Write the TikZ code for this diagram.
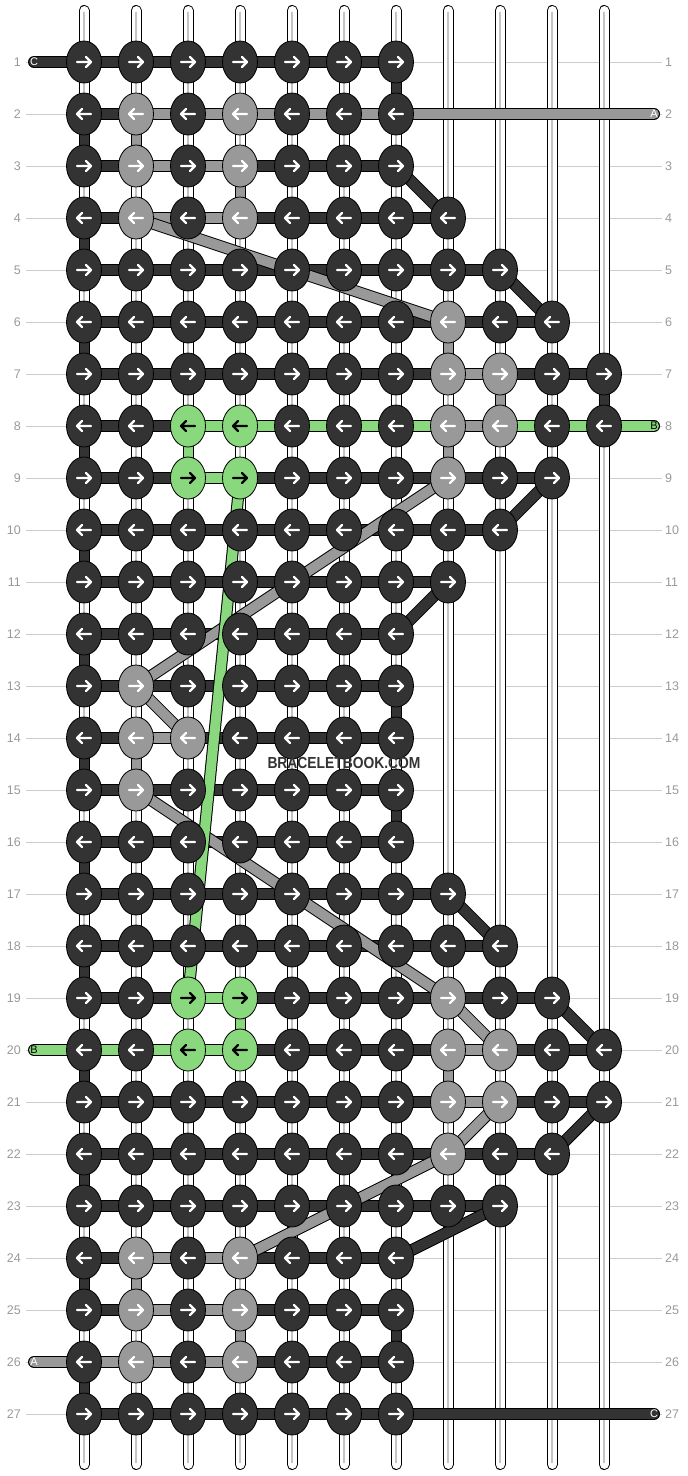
\documentclass[tikz,border=0pt]{standalone}
\usepackage{fontspec}
\setmainfont{Liberation Sans}
\usetikzlibrary{shapes.geometric}
\definecolor{cD}{HTML}{333333}
\definecolor{cG}{HTML}{999999}
\definecolor{cL}{RGB}{138,216,126}
\definecolor{guidecol}{HTML}{CCCCCC}
\definecolor{lblcol}{HTML}{999999}
\definecolor{corecol}{HTML}{C4C4C4}
\pgfdeclarelayer{guides}\pgfdeclarelayer{tubes}\pgfdeclarelayer{bars}\pgfdeclarelayer{diags}
\pgfsetlayers{guides,tubes,bars,diags,main}
\tikzset{
  knot/.style={ellipse, draw=black, line width=0.8pt, minimum width=35pt, minimum height=42pt, inner sep=0pt},
  kd/.style={knot, fill=cD, /utils/exec={\def\arrcol{white}}},
  kg/.style={knot, fill=cG, /utils/exec={\def\arrcol{white}}},
  kl/.style={knot, fill=cL, /utils/exec={\def\arrcol{black}}},
  arrR/.style={path picture={\draw[draw=\arrcol, line width=2.4pt, line cap=round, line join=round]
      (path picture bounding box.center) ++(-7,0) -- ++(14,0) ++(-5,-5) -- ++(5,5) -- ++(-5,5);}},
  arrL/.style={path picture={\draw[draw=\arrcol, line width=2.4pt, line cap=round, line join=round]
      (path picture bounding box.center) ++(7,0) -- ++(-14,0) ++(5,-5) -- ++(-5,5) -- ++(5,5);}},
  thread/.style={draw=black, line width=1pt, double=#1, double distance=10pt},
  vthread/.style={draw=black, line width=1pt, double=#1, double distance=9pt},
  tailthread/.style={draw=black, line width=1pt, double=#1, double distance=10pt, line cap=round},
  tube/.style={draw=black, line width=1pt, double=white, double distance=9pt, line cap=round},
  tubecore/.style={draw=corecol, line width=1.6pt},
  guide/.style={draw=guidecol, line width=1pt},
  rowlbl/.style={inner sep=0pt, text=lblcol, font=\fontsize{12.5}{12.5}\selectfont},
  taillbl/.style={inner sep=0pt, font=\fontsize{11}{11}\selectfont},
}
\newcommand\knotrow[2]{%
  \ifodd#1\relax\def\adir{arrR}\else\def\adir{arrL}\fi
  \foreach \kc [count=\kcol] in {#2}{%
    \node[\kc,\adir] (k-#1-\kcol) at ({84+52*(\kcol-1)},{62+52*(#1-1)}) {};
  }}
\newcommand\myH[2]{%
  \foreach \sc [count=\kcol] in {#2}{%
    \pgfmathtruncatemacro\knext{\kcol+1}%
    \draw[thread=\sc] (k-#1-\kcol.center) -- (k-#1-\knext.center);
  }}
\newcommand\myV[3]{% col, upper row, colour
  \pgfmathtruncatemacro\nrow{#2+1}%
  \draw[vthread=#3] (k-#2-#1.center) -- (k-\nrow-#1.center);}
\newcommand\myD[5]{\draw[thread=#5] (k-#1-#2.center) -- (k-#3-#4.center);}
\begin{document}
\begin{tikzpicture}[x=1pt,y=-1pt]
\useasboundingbox (0,0) rectangle (688,1476);
% row labels and guide lines
\foreach \rr in {1,...,27}{
  \pgfmathsetmacro\yy{62+52*(\rr-1)}
  \node[rowlbl, anchor=east] (ll-\rr) at (21,\yy) {\rr};
  \node[rowlbl, anchor=west] (rl-\rr) at (665,\yy) {\rr};
  \coordinate (gl-\rr) at (26,\yy);
  \coordinate (gr-\rr) at (662,\yy);
  \begin{pgfonlayer}{guides}\draw[guide] (gl-\rr) -- (gr-\rr);\end{pgfonlayer}
}
% strings
\foreach \kcol in {1,...,11}{
  \pgfmathsetmacro\xx{84+52*(\kcol-1)}
  \coordinate (tt-\kcol) at (\xx,10.5);
  \coordinate (tb-\kcol) at (\xx,1464.5);
  \coordinate (ct-\kcol) at (\xx,12);
  \coordinate (cb-\kcol) at (\xx,1463);
  \begin{pgfonlayer}{tubes}
    \draw[tube] (tt-\kcol) -- (tb-\kcol);
    \draw[tubecore] (ct-\kcol) -- (cb-\kcol);
  \end{pgfonlayer}
}
% knots
\knotrow{1}{kd,kd,kd,kd,kd,kd,kd}
\knotrow{2}{kd,kg,kd,kg,kd,kd,kd}
\knotrow{3}{kd,kg,kd,kg,kd,kd,kd}
\knotrow{4}{kd,kg,kd,kg,kd,kd,kd,kd}
\knotrow{5}{kd,kd,kd,kd,kd,kd,kd,kd,kd}
\knotrow{6}{kd,kd,kd,kd,kd,kd,kd,kg,kd,kd}
\knotrow{7}{kd,kd,kd,kd,kd,kd,kd,kg,kg,kd,kd}
\knotrow{8}{kd,kd,kl,kl,kd,kd,kd,kg,kg,kd,kd}
\knotrow{9}{kd,kd,kl,kl,kd,kd,kd,kg,kd,kd}
\knotrow{10}{kd,kd,kd,kd,kd,kd,kd,kd,kd}
\knotrow{11}{kd,kd,kd,kd,kd,kd,kd,kd}
\knotrow{12}{kd,kd,kd,kd,kd,kd,kd}
\knotrow{13}{kd,kg,kd,kd,kd,kd,kd}
\knotrow{14}{kd,kg,kg,kd,kd,kd,kd}
\knotrow{15}{kd,kg,kd,kd,kd,kd,kd}
\knotrow{16}{kd,kd,kd,kd,kd,kd,kd}
\knotrow{17}{kd,kd,kd,kd,kd,kd,kd,kd}
\knotrow{18}{kd,kd,kd,kd,kd,kd,kd,kd,kd}
\knotrow{19}{kd,kd,kl,kl,kd,kd,kd,kg,kd,kd}
\knotrow{20}{kd,kd,kl,kl,kd,kd,kd,kg,kg,kd,kd}
\knotrow{21}{kd,kd,kd,kd,kd,kd,kd,kg,kg,kd,kd}
\knotrow{22}{kd,kd,kd,kd,kd,kd,kd,kg,kd,kd}
\knotrow{23}{kd,kd,kd,kd,kd,kd,kd,kd,kd}
\knotrow{24}{kd,kg,kd,kg,kd,kd,kd}
\knotrow{25}{kd,kg,kd,kg,kd,kd,kd}
\knotrow{26}{kd,kg,kd,kg,kd,kd,kd}
\knotrow{27}{kd,kd,kd,kd,kd,kd,kd}
% tail ends
\coordinate (tl-1) at (34,62);
\coordinate (tr-2) at (654,114);
\coordinate (tr-8) at (654,426);
\coordinate (tl-20) at (34,1050);
\coordinate (tl-26) at (34,1362);
\coordinate (tr-27) at (654,1414);
\begin{pgfonlayer}{bars}
  \draw[tailthread=cD] (k-1-1.center) -- (tl-1);
  \draw[tailthread=cG] (k-2-7.center) -- (tr-2);
  \draw[tailthread=cL] (k-8-11.center) -- (tr-8);
  \draw[tailthread=cL] (k-20-1.center) -- (tl-20);
  \draw[tailthread=cG] (k-26-1.center) -- (tl-26);
  \draw[tailthread=cD] (k-27-7.center) -- (tr-27);
  % horizontal threads
  \myH{1}{cD,cD,cD,cD,cD,cD}
  \myH{2}{cD,cG,cG,cG,cG,cG}
  \myH{3}{cD,cG,cG,cD,cD,cD}
  \myH{4}{cD,cG,cG,cD,cD,cD,cD}
  \myH{5}{cD,cD,cD,cD,cD,cD,cD,cD}
  \myH{6}{cD,cD,cD,cD,cD,cD,cD,cD,cD}
  \myH{7}{cD,cD,cD,cD,cD,cD,cD,cG,cD,cD}
  \myH{8}{cD,cD,cL,cL,cL,cL,cL,cG,cL,cL}
  \myH{9}{cD,cD,cL,cD,cD,cD,cD,cD,cD}
  \myH{10}{cD,cD,cD,cD,cD,cD,cD,cD}
  \myH{11}{cD,cD,cD,cD,cD,cD,cD}
  \myH{12}{cD,cD,cD,cD,cD,cD}
  \myH{13}{cD,cD,cD,cD,cD,cD}
  \myH{14}{cD,cG,cD,cD,cD,cD}
  \myH{15}{cD,cD,cD,cD,cD,cD}
  \myH{16}{cD,cD,cD,cD,cD,cD}
  \myH{17}{cD,cD,cD,cD,cD,cD,cD}
  \myH{18}{cD,cD,cD,cD,cD,cD,cD,cD}
  \myH{19}{cD,cD,cL,cD,cD,cD,cD,cD,cD}
  \myH{20}{cL,cL,cL,cD,cD,cD,cD,cG,cD,cD}
  \myH{21}{cD,cD,cD,cD,cD,cD,cD,cG,cD,cD}
  \myH{22}{cD,cD,cD,cD,cD,cD,cD,cD,cD}
  \myH{23}{cD,cD,cD,cD,cD,cD,cD,cD}
  \myH{24}{cD,cG,cG,cD,cD,cD}
  \myH{25}{cD,cG,cG,cD,cD,cD}
  \myH{26}{cG,cG,cG,cD,cD,cD}
  \myH{27}{cD,cD,cD,cD,cD,cD}
  % vertical turns at the left edge
  \foreach \rr in {2,4,...,26}{\myV{1}{\rr}{cD}}
  % vertical turns at the right edge
  \myV{7}{1}{cD}
  \myV{11}{7}{cD}
  \myV{7}{13}{cD}
  \myV{7}{15}{cD}
  \myV{7}{25}{cD}
  % grey and green vertical passes
  \myV{2}{2}{cG}
  \myV{4}{3}{cG}
  \myV{8}{6}{cG}
  \myV{9}{7}{cG}
  \myV{8}{8}{cG}
  \myV{2}{14}{cG}
  \myV{8}{20}{cG}
  \myV{2}{24}{cG}
  \myV{4}{25}{cG}
  \myV{3}{8}{cL}
  \myV{4}{19}{cL}
\end{pgfonlayer}
\begin{pgfonlayer}{diags}
  \myD{3}{7}{4}{8}{cD}
  \myD{5}{9}{6}{10}{cD}
  \myD{9}{10}{10}{9}{cD}
  \myD{11}{8}{12}{7}{cD}
  \myD{17}{8}{18}{9}{cD}
  \myD{19}{10}{20}{11}{cD}
  \myD{21}{11}{22}{10}{cD}
  \myD{23}{9}{24}{7}{cD}
  \myD{4}{2}{6}{8}{cG}
  \myD{9}{8}{13}{2}{cG}
  \myD{13}{2}{14}{3}{cG}
  \myD{15}{2}{19}{8}{cG}
  \myD{19}{8}{20}{9}{cG}
  \myD{21}{9}{22}{8}{cG}
  \myD{22}{8}{24}{4}{cG}
  \myD{9}{4}{19}{3}{cL}
\end{pgfonlayer}
% tail labels
\node[taillbl, text=white] (lab-C1) at (tl-1) {C};
\node[taillbl, text=white] (lab-A2) at (tr-2) {A};
\node[taillbl, text=black] (lab-B8) at (tr-8) {B};
\node[taillbl, text=black] (lab-B20) at (tl-20) {B};
\node[taillbl, text=white] (lab-A26) at (tl-26) {A};
\node[taillbl, text=white] (lab-C27) at (tr-27) {C};
% watermark
\node[inner sep=0pt, text=cD] (mark) at (344,763) {\scalebox{0.865}[1]{\fontsize{16}{16}\selectfont\bfseries BRACELETBOOK.COM}};
\end{tikzpicture}
\end{document}
